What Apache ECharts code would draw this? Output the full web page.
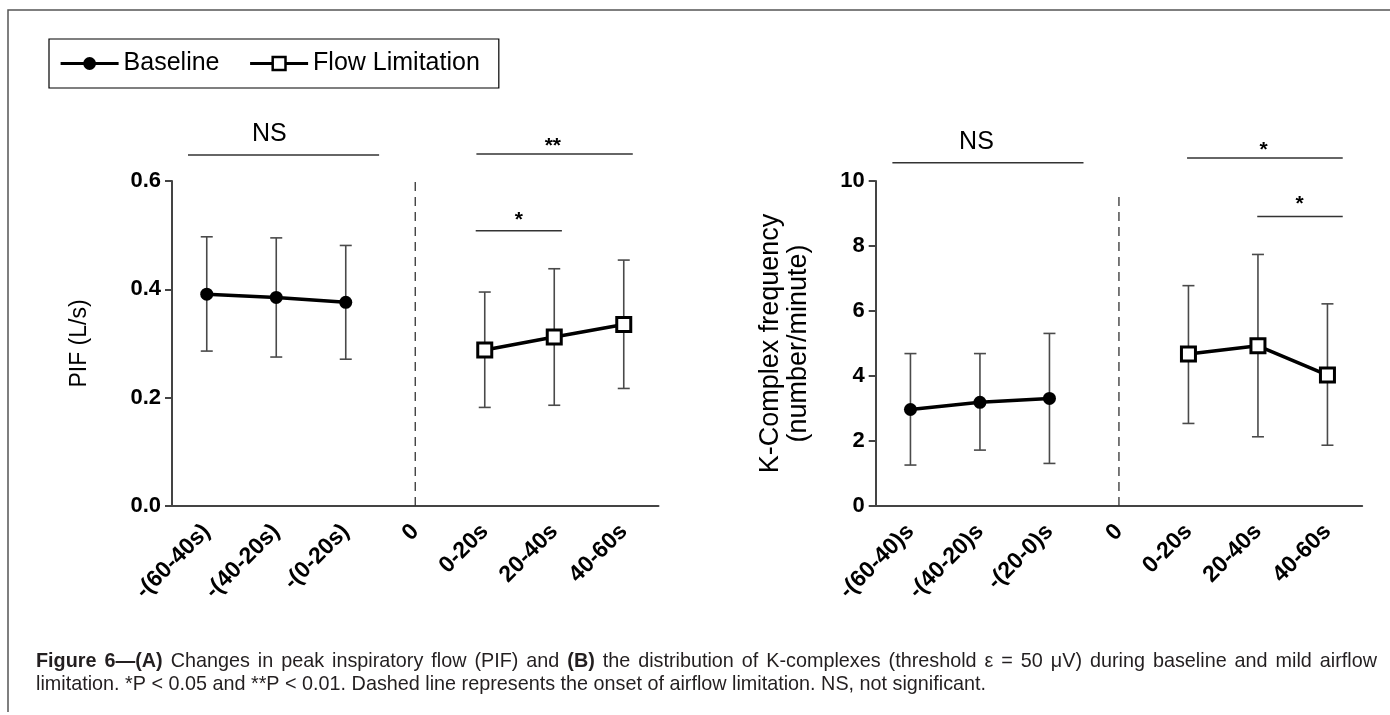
<!DOCTYPE html>
<html>
<head>
<meta charset="utf-8">
<script src="https://cdn.jsdelivr.net/npm/echarts@6/dist/echarts.min.js"></script>
<style>
html,body{margin:0;padding:0;background:#fff;}
#chart{width:1390px;height:715px;}
</style>
</head>
<body>
<div id="chart"></div>
<script>
// ---------- DATA ----------
const categoriesA = ['-(60-40s)', '-(40-20s)', '-(0-20s)', '0', '0-20s', '20-40s', '40-60s'];
const categoriesB = ['-(60-40)s', '-(40-20)s', '-(20-0)s', '0', '0-20s', '20-40s', '40-60s'];
const baselineIdx = [0, 1, 2];
const flowIdx = [4, 5, 6];
const onsetIdx = 3;

// Panel A: PIF (L/s), mean and error-bar ends
const pifBaselineMean = [0.391, 0.385, 0.376];
const pifBaselineLow  = [0.286, 0.275, 0.271];
const pifBaselineHigh = [0.497, 0.495, 0.481];
const pifFlowMean = [0.288, 0.312, 0.335];
const pifFlowLow  = [0.182, 0.186, 0.217];
const pifFlowHigh = [0.395, 0.438, 0.454];

// Panel B: K-Complex frequency (number/minute)
const kcBaselineMean = [2.97, 3.19, 3.31];
const kcBaselineLow  = [1.26, 1.72, 1.31];
const kcBaselineHigh = [4.69, 4.69, 5.31];
const kcFlowMean = [4.68, 4.93, 4.03];
const kcFlowLow  = [2.54, 2.13, 1.87];
const kcFlowHigh = [6.78, 7.74, 6.22];

// significance brackets in data units: [fromIndex, toIndex, value, labelIndex, labelValue]
const sigLabelsA = ['NS', '**', '*'];
const sigA = [[-0.27, 2.48, 0.648, 0.90, 0.686], [3.88, 6.13, 0.650, 4.98, 0.665], [3.87, 5.11, 0.508, 4.49, 0.528]];
const sigLabelsB = ['NS', '*', '*'];
const sigB = [[-0.26, 2.49, 10.56, 0.95, 11.2], [3.98, 6.22, 10.71, 5.08, 10.95], [4.99, 6.22, 8.91, 5.60, 9.28]];

// onset (dashed) line top values
const onsetTopA = 0.6;
const onsetTopB = 9.55;

const yTicksA = [0, 0.6, 0.2];
const yTicksB = [0, 10, 2];

const legendNames = ['Baseline', 'Flow Limitation'];
const yTitleA = 'PIF (L/s)';
const yTitleB = 'K-Complex frequency\n(number/minute)';

const captionLine1 = [['Figure 6—(A)', true], ['Changes in peak inspiratory flow (PIF) and', false], ['(B)', true], ['the distribution of K-complexes (threshold ε = 50 μV) during baseline and mild airflow', false]];
const captionLine2 = 'limitation. *P < 0.05 and **P < 0.01. Dashed line represents the onset of airflow limitation. NS, not significant.';

// ---------- BUILD ----------
const FONT = '"Liberation Sans", Arial, Helvetica, sans-serif';
function full(idx, vals) { const a = new Array(7).fill(null); idx.forEach((k, i) => a[k] = vals[i]); return a; }
function bars(idx, lo, hi) { return idx.map((k, i) => [k, lo[i], hi[i]]); }

function errRender(params, api) {
  const x = api.value(0), lo = api.value(1), hi = api.value(2);
  const a = api.coord([x, lo]), b = api.coord([x, hi]);
  const cap = 6;
  const st = { stroke: '#4a4a4a', lineWidth: 1.6 };
  return { type: 'group', children: [
    { type: 'line', shape: { x1: a[0], y1: a[1], x2: b[0], y2: b[1] }, style: st },
    { type: 'line', shape: { x1: a[0] - cap, y1: a[1], x2: a[0] + cap, y2: a[1] }, style: st },
    { type: 'line', shape: { x1: b[0] - cap, y1: b[1], x2: b[0] + cap, y2: b[1] }, style: st }
  ]};
}
function sigRender(labels) {
  return function (params, api) {
    const i = params.dataIndex;
    const p1 = api.coord([api.value(0), api.value(2)]);
    const p2 = api.coord([api.value(1), api.value(2)]);
    const pl = api.coord([api.value(3), api.value(4)]);
    const txt = labels[i];
    const isNS = txt === 'NS';
    return { type: 'group', children: [
      { type: 'line', shape: { x1: p1[0], y1: p1[1], x2: p2[0], y2: p2[1] }, style: { stroke: '#333', lineWidth: 1.5 } },
      { type: 'text', x: pl[0], y: pl[1], style: { text: txt, fontFamily: FONT, fontSize: isNS ? 25 : 21, fontWeight: isNS ? 'normal' : 'bold', fill: '#000', align: 'center', verticalAlign: 'middle' } }
    ]};
  };
}
function onsetRender(params, api) {
  const a = api.coord([api.value(0), 0]), b = api.coord([api.value(0), api.value(1)]);
  return { type: 'line', shape: { x1: a[0], y1: a[1], x2: b[0], y2: b[1] }, style: { stroke: '#333', lineWidth: 1.3, lineDash: [9, 6] } };
}

const axisColor = '#444';
function catAxis(grid, data) {
  return {
    gridIndex: grid, type: 'category', data: data, boundaryGap: true,
    axisLine: { onZero: false, lineStyle: { color: axisColor, width: 2 } },
    axisTick: { alignWithLabel: true, length: 8, lineStyle: { color: axisColor, width: 2 } },
    axisLabel: { rotate: 45, margin: 22, color: '#000', fontWeight: 'bold', fontSize: 23, fontFamily: FONT, interval: 0 },
    splitLine: { show: false }
  };
}
function valXAxis(grid) { return { gridIndex: grid, type: 'value', min: -0.5, max: 6.5, show: false }; }
function yAxis(grid, t, name, gap, fs, lh, fmt) {
  return {
    gridIndex: grid, type: 'value', min: t[0], max: t[1], interval: t[2],
    name: name, nameLocation: 'middle', nameGap: gap,
    nameTextStyle: { fontSize: fs, fontFamily: FONT, color: '#000', lineHeight: lh },
    axisLine: { show: true, onZero: false, lineStyle: { color: axisColor, width: 2 } },
    axisTick: { show: true, length: 7, lineStyle: { color: axisColor, width: 2 } },
    axisLabel: { margin: 11, color: '#000', fontWeight: 'bold', fontSize: 22, fontFamily: FONT, formatter: fmt },
    splitLine: { show: false }
  };
}

const baseStyle = { type: 'line', symbol: 'circle', symbolSize: 13, itemStyle: { color: '#000' }, lineStyle: { color: '#000', width: 3.5 }, z: 5, animation: false };
const flowStyle = { type: 'line', symbol: 'rect', symbolSize: 14, itemStyle: { color: '#fff', borderColor: '#000', borderWidth: 3 }, lineStyle: { color: '#000', width: 3.5 }, z: 5, animation: false };

function panel(g, bm, bl, bh, fm, fl, fh, sig, sigLabels, onsetTop) {
  const xc = g * 2, xv = g * 2 + 1;
  return [
    Object.assign({ name: legendNames[0], xAxisIndex: xc, yAxisIndex: g, data: full(baselineIdx, bm) }, baseStyle),
    Object.assign({ name: legendNames[1], xAxisIndex: xc, yAxisIndex: g, data: full(flowIdx, fm) }, flowStyle),
    { type: 'custom', xAxisIndex: xv, yAxisIndex: g, renderItem: errRender, data: bars(baselineIdx, bl, bh).concat(bars(flowIdx, fl, fh)), z: 2, silent: true, animation: false, clip: false },
    { type: 'custom', xAxisIndex: xv, yAxisIndex: g, renderItem: sigRender(sigLabels), data: sig, z: 2, silent: true, animation: false, clip: false },
    { type: 'custom', xAxisIndex: xv, yAxisIndex: g, renderItem: onsetRender, data: [[onsetIdx, onsetTop]], z: 1, silent: true, animation: false, clip: false }
  ];
}

// caption layout (justified first line, second line fitted to its printed width)
const meas = document.createElement('canvas').getContext('2d');
function textW(t, bold, size) { meas.font = (bold ? 'bold ' : '') + size + 'px ' + FONT; return meas.measureText(t).width; }
const CAP_X = 36, CAP_W = 1341, CAP2_W = 949;
const CAP_SIZE = Math.round(16 * CAP2_W / textW(captionLine2, false, 16) * 10) / 10;
const words = [];
captionLine1.forEach(([seg, bold]) => seg.split(' ').filter(w => w).forEach(w => words.push({ t: w, b: bold, w: textW(w, bold, CAP_SIZE) })));
const sumW = words.reduce((s, w) => s + w.w, 0);
const gap = (CAP_W - sumW) / (words.length - 1);
const captionEls = [];
let cx = CAP_X;
words.forEach(w => {
  captionEls.push({ type: 'text', x: cx, y: 662, style: { text: w.t, fontFamily: FONT, fontSize: CAP_SIZE, fontWeight: w.b ? 'bold' : 'normal', fill: '#231f20', align: 'left', verticalAlign: 'middle' } });
  cx += w.w + gap;
});
captionEls.push({ type: 'text', x: CAP_X, y: 685, style: { text: captionLine2, fontFamily: FONT, fontSize: CAP_SIZE, fill: '#231f20', align: 'left', verticalAlign: 'middle' } });

const chart = echarts.init(document.getElementById('chart'), null, { renderer: 'canvas' });
chart.setOption({
  backgroundColor: '#fff',
  animation: false,
  textStyle: { fontFamily: FONT },
  legend: {
    data: [
      { name: legendNames[0] },
      { name: legendNames[1], itemStyle: { borderWidth: 2.5, borderColor: '#000', color: '#fff' } }
    ],
    left: 49, top: 39, itemWidth: 58, itemHeight: 16, itemGap: 29,
    padding: [12, 19, 12, 10], borderColor: '#000', borderWidth: 1.2,
    lineStyle: { width: 3.2, color: '#000' },
    textStyle: { fontSize: 25, color: '#000', fontFamily: FONT }
  },
  grid: [
    { left: 172, top: 181, width: 486.5, height: 325 },
    { left: 875.7, top: 181, width: 486.5, height: 325 }
  ],
  xAxis: [catAxis(0, categoriesA), valXAxis(0), catAxis(1, categoriesB), valXAxis(1)],
  yAxis: [
    yAxis(0, yTicksA, yTitleA, 80, 23, 25, v => v.toFixed(1)),
    yAxis(1, yTicksB, yTitleB, 63, 27, 28, v => String(v))
  ],
  series: panel(0, pifBaselineMean, pifBaselineLow, pifBaselineHigh, pifFlowMean, pifFlowLow, pifFlowHigh, sigA, sigLabelsA, onsetTopA)
    .concat(panel(1, kcBaselineMean, kcBaselineLow, kcBaselineHigh, kcFlowMean, kcFlowLow, kcFlowHigh, sigB, sigLabelsB, onsetTopB)),
  graphic: [
    { type: 'polyline', shape: { points: [[8, 712], [8, 10], [1390, 10]] }, style: { stroke: '#555', lineWidth: 1.5, fill: null }, silent: true }
  ].concat(captionEls)
});
</script>
</body>
</html>
